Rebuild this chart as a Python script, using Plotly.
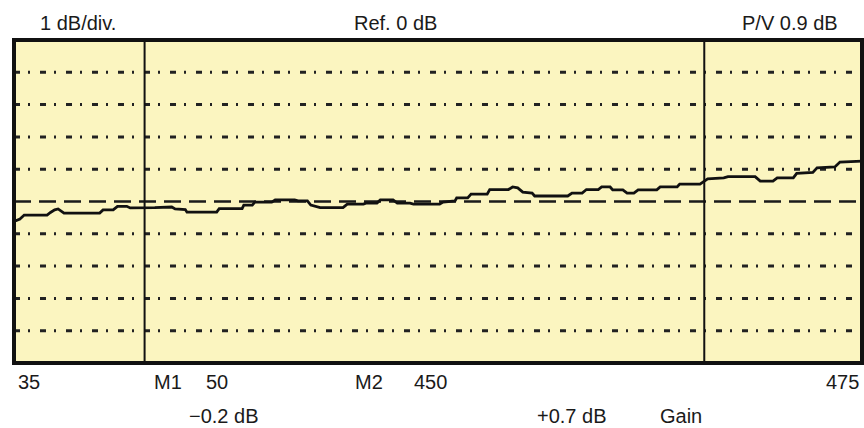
import plotly.graph_objects as go

# ---- data ----
sweep_pct = [0.0, 0.7, 1.2, 3.9, 4.3, 4.8, 5.2, 5.5, 5.9, 10.1, 10.5, 11.7, 12.2, 13.3, 13.7,
             16.6, 18.6, 19.0, 20.2, 20.4, 23.9, 24.2, 26.9, 27.1, 28.1, 28.4, 30.4, 30.8,
             33.1, 33.5, 34.6, 35.0, 36.1, 38.8, 39.3, 41.2, 41.5, 42.8, 43.2, 44.7, 45.2,
             46.7, 47.1, 50.2, 50.6, 52.0, 52.2, 53.5, 53.9, 55.8, 56.1, 58.3, 58.8, 59.4,
             60.0, 61.1, 61.4, 65.3, 65.8, 67.0, 67.5, 68.9, 69.3, 70.3, 70.6, 71.8, 72.3,
             73.1, 73.6, 75.8, 76.2, 78.2, 78.5, 80.9, 81.3, 81.8, 83.7, 84.2, 87.4, 88.0,
             89.5, 90.0, 91.9, 92.3, 94.2, 94.7, 96.8, 97.4, 100.0]
gain_db = [-0.62, -0.54, -0.42, -0.42, -0.34, -0.26, -0.23, -0.29, -0.36, -0.36, -0.26, -0.26,
           -0.15, -0.15, -0.20, -0.19, -0.17, -0.23, -0.25, -0.33, -0.33, -0.22, -0.22, -0.11,
           -0.11, -0.02, -0.02, 0.05, 0.05, 0.02, 0.02, -0.11, -0.19, -0.19, -0.08, -0.08,
           -0.05, -0.05, 0.05, 0.05, -0.05, -0.05, -0.08, -0.08, -0.02, 0.02, 0.11, 0.11,
           0.23, 0.23, 0.37, 0.37, 0.45, 0.42, 0.29, 0.26, 0.17, 0.17, 0.26, 0.26, 0.37,
           0.37, 0.45, 0.45, 0.36, 0.36, 0.26, 0.26, 0.36, 0.36, 0.45, 0.45, 0.54, 0.54,
           0.62, 0.70, 0.73, 0.77, 0.77, 0.63, 0.63, 0.73, 0.73, 0.87, 0.90, 1.04, 1.07,
           1.22, 1.25]
assert len(sweep_pct) == len(gain_db)

ref_level_db = 0
grid_levels_db = [-4, -3, -2, -1, 1, 2, 3, 4]
y_range_db = [-5, 5]
x_range_pct = [0, 100]
marker_pos_pct = [15.4, 81.4]

header_texts = ["1 dB/div.", "Ref. 0 dB", "P/V 0.9 dB"]
freq_texts = ["35", "M1", "50", "M2", "450", "475"]
reading_texts = ["\u22120.2 dB", "+0.7 dB", "Gain"]

# ---- layout geometry (pixels) ----
W, H = 864, 428
L, R, T, B = 14, 2, 40, 65
PW, PH = W - L - R, H - T - B


def pxx(px):
    return (px - L) / PW


def pxy(py):
    return (H - B - py) / PH


BG = "#FBF5C0"
INK = "#111111"
FONT = dict(family="Liberation Sans, Arial, Helvetica, sans-serif", size=20, color="#1a1a1a")

fig = go.Figure()

fig.add_trace(go.Scatter(x=sweep_pct, y=gain_db, mode="lines",
                         line=dict(color=INK, width=2.8), hoverinfo="skip",
                         showlegend=False))

shapes = []
for g in grid_levels_db:
    shapes.append(dict(type="line", xref="paper", yref="y", x0=0, x1=1, y0=g, y1=g,
                       line=dict(color="#222222", width=3, dash="6px,8px,2px,10px"),
                       layer="below"))
shapes.append(dict(type="line", xref="paper", yref="y", x0=0, x1=1,
                   y0=ref_level_db, y1=ref_level_db,
                   line=dict(color="#1a1a1a", width=2.6, dash="17px,8px"), layer="below"))
for m in marker_pos_pct:
    shapes.append(dict(type="line", xref="x", yref="paper", x0=m, x1=m, y0=0, y1=1,
                       line=dict(color=INK, width=2)))
shapes.append(dict(type="rect", xref="paper", yref="paper", x0=0, x1=1, y0=0, y1=1,
                   line=dict(color=INK, width=4)))

annotations = []
header_pos = [(78, 23), (395, 23), (790, 23)]
for t, (px, py) in zip(header_texts, header_pos):
    annotations.append(dict(text=t, x=pxx(px), y=pxy(py), xref="paper", yref="paper",
                            xanchor="center", yanchor="middle", showarrow=False, font=FONT))
freq_pos = [(29, 382), (168, 382), (217, 382), (369, 382), (430, 382), (842, 382)]
for t, (px, py) in zip(freq_texts, freq_pos):
    annotations.append(dict(text=t, x=pxx(px), y=pxy(py), xref="paper", yref="paper",
                            xanchor="center", yanchor="middle", showarrow=False, font=FONT))
read_pos = [(224, 416), (572, 416), (681, 416)]
for t, (px, py) in zip(reading_texts, read_pos):
    annotations.append(dict(text=t, x=pxx(px), y=pxy(py), xref="paper", yref="paper",
                            xanchor="center", yanchor="middle", showarrow=False, font=FONT))

fig.update_layout(
    width=W, height=H, autosize=False,
    margin=dict(l=L, r=R, t=T, b=B, pad=0),
    paper_bgcolor="white", plot_bgcolor=BG,
    shapes=shapes, annotations=annotations,
    xaxis=dict(range=x_range_pct, showgrid=False, zeroline=False, showticklabels=False,
               ticks="", showline=False, fixedrange=True),
    yaxis=dict(range=y_range_db, showgrid=False, zeroline=False, showticklabels=False,
               ticks="", showline=False, fixedrange=True),
    showlegend=False,
)

fig.write_html("out.html", config={"displayModeBar": False},
               post_script="document.body.style.margin='0px';document.body.style.overflow='hidden';")
